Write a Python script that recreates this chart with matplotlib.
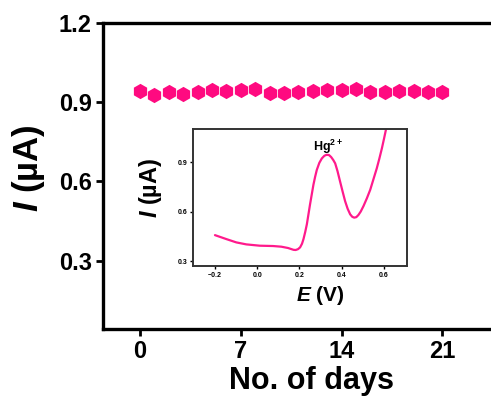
import matplotlib.pyplot as plt

plt.rcParams["font.family"] = ["Liberation Sans", "DejaVu Sans"]
plt.rcParams["font.weight"] = "bold"
plt.rcParams["mathtext.fontset"] = "custom"
plt.rcParams["mathtext.it"] = "Liberation Sans:italic:bold"
plt.rcParams["mathtext.rm"] = "Liberation Sans:bold"

PINK = "#ff0a80"

# stability over days (main plot)
days = list(range(22))
current = [0.943, 0.926, 0.939, 0.930, 0.939, 0.945, 0.943, 0.945, 0.948, 0.933, 0.933,
           0.939, 0.943, 0.945, 0.945, 0.948, 0.939, 0.939, 0.943, 0.943, 0.939, 0.939]

# inset DPV trace
potential = [-0.200, -0.146, -0.099, -0.052, 0.012, 0.075, 0.114, 0.146, 0.160, 0.172,
             0.182, 0.193, 0.203, 0.212, 0.219, 0.227, 0.235, 0.250, 0.266, 0.274,
             0.282, 0.294, 0.306, 0.318, 0.329, 0.340, 0.350, 0.360, 0.369, 0.380,
             0.392, 0.404, 0.416, 0.428, 0.440, 0.450, 0.459, 0.469, 0.479, 0.490,
             0.503, 0.519, 0.535, 0.550, 0.566, 0.578, 0.590, 0.600, 0.610]
dpv_current = [0.457, 0.433, 0.413, 0.401, 0.393, 0.391, 0.387, 0.379, 0.373, 0.368,
               0.367, 0.372, 0.383, 0.405, 0.433, 0.475, 0.523, 0.643, 0.762, 0.810,
               0.852, 0.895, 0.922, 0.938, 0.944, 0.942, 0.930, 0.912, 0.892, 0.845,
               0.783, 0.722, 0.663, 0.617, 0.583, 0.568, 0.563, 0.566, 0.579, 0.600,
               0.633, 0.680, 0.732, 0.795, 0.862, 0.920, 0.982, 1.040, 1.100]

fig = plt.figure(figsize=(4.91, 4.0), dpi=100)
ax = fig.add_axes([103 / 491, 71 / 400, 397 / 491, 306.3 / 400])
ax.plot(days, current, linestyle="none", marker="h", markersize=11,
        color=PINK, markeredgewidth=0)
ax.set_xlim(-2.57, 25)
ax.set_ylim(0.041, 1.2)
ax.set_xticks([0, 7, 14, 21])
ax.set_yticks([0.3, 0.6, 0.9, 1.2])
ax.tick_params(labelsize=17, width=2, length=5, direction="out", pad=3)
for s in ax.spines.values():
    s.set_linewidth(2.4)
ax.set_xlabel("No. of days", fontsize=22, fontweight="bold")
ax.xaxis.set_label_coords(0.524, -0.122)
ax.set_ylabel(r"$I$ (µA)", fontsize=25, fontweight="bold")
ax.yaxis.set_label_coords(-0.14, 0.527)

ins = fig.add_axes([193 / 491, 134 / 400, 214 / 491, 137 / 400])
ins.plot(potential, dpv_current, color="#ff1a8c", linewidth=1.6,
         solid_joinstyle="round", solid_capstyle="round")
ins.set_xlim(-0.304, 0.709)
ins.set_ylim(0.27, 1.1)
ins.set_xticks([-0.2, 0.0, 0.2, 0.4, 0.6])
ins.set_yticks([0.3, 0.6, 0.9])
ins.tick_params(labelsize=5, width=1, length=2, pad=2)
for s in ins.spines.values():
    s.set_linewidth(1.4)
    s.set_color("#333333")
ins.set_xlabel(r"$E$ (V)", fontsize=15, fontweight="bold")
ins.xaxis.set_label_coords(0.593, -0.135)
ins.set_ylabel(r"$I$ (µA)", fontsize=17, fontweight="bold")
ins.yaxis.set_label_coords(-0.135, 0.573)
ins.text(0.335, 0.935, r"Hg$^{2+}$", fontsize=9, ha="center", va="bottom")

fig.savefig("out.png", dpi=100)
